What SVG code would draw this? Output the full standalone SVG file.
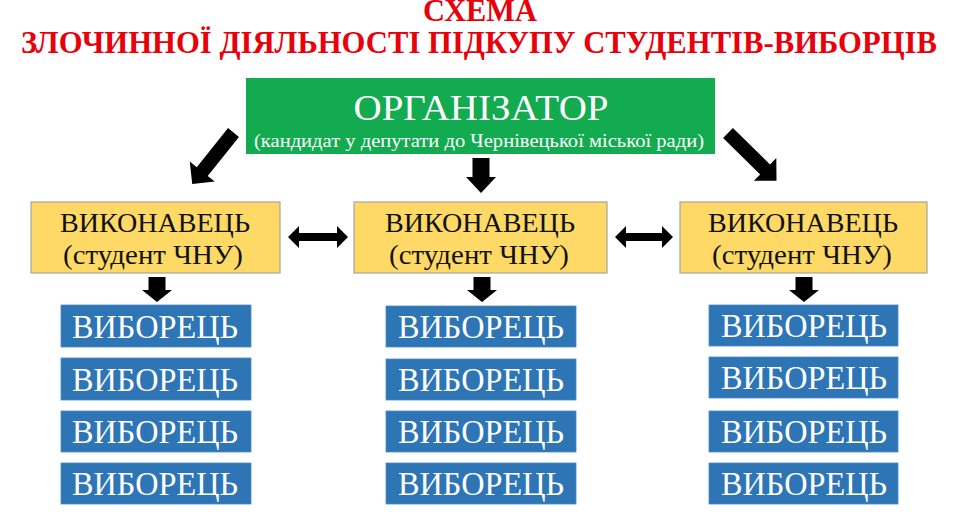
<svg xmlns="http://www.w3.org/2000/svg" width="960" height="515" viewBox="0 0 960 515">
<style>
text{font-family:"Liberation Serif","Times New Roman","DejaVu Serif",serif;}
.title{fill:#e8000b;font-weight:bold;font-size:31px;text-anchor:middle;}
.org{fill:#12ab4f;}
.exe{fill:#ffd966;stroke:#a6a6a6;stroke-width:1.2;}
.vot{fill:#2e75b6;stroke:#4a8ac6;stroke-width:0.8;}
.wt{fill:#ffffff;text-anchor:middle;}
.bt{fill:#111111;text-anchor:middle;font-size:28px;}
.vt{fill:#ffffff;text-anchor:middle;font-size:34px;}
.arr{fill:#000000;}
</style>
<rect width="960" height="515" fill="#ffffff"/>
<g id="title">
<text class="title" x="480" y="21" font-size="29" textLength="114" lengthAdjust="spacingAndGlyphs">СХЕМА</text>
<text class="title" x="479" y="53" textLength="916" lengthAdjust="spacingAndGlyphs">ЗЛОЧИННОЇ ДІЯЛЬНОСТІ ПІДКУПУ СТУДЕНТІВ-ВИБОРЦІВ</text>
</g>
<g id="organizer">
<rect class="org" x="246" y="78" width="469" height="76"/>
<text class="wt" x="481" y="120" font-size="35" textLength="255" lengthAdjust="spacingAndGlyphs">ОРГАНІЗАТОР</text>
<text class="wt" x="479" y="147" font-size="18" textLength="450" lengthAdjust="spacingAndGlyphs">(кандидат у депутати до Чернівецької міської ради)</text>
</g>
<g id="executor-left">
<rect class="exe" x="31" y="202" width="249" height="71"/>
<text class="bt" x="155" y="232" textLength="190" lengthAdjust="spacingAndGlyphs">ВИКОНАВЕЦЬ</text>
<text class="bt" x="153" y="264" textLength="180" lengthAdjust="spacingAndGlyphs">(студент ЧНУ)</text>
</g>
<g id="executor-middle">
<rect class="exe" x="354" y="202" width="253" height="71"/>
<text class="bt" x="480" y="232" textLength="190" lengthAdjust="spacingAndGlyphs">ВИКОНАВЕЦЬ</text>
<text class="bt" x="479" y="264" textLength="180" lengthAdjust="spacingAndGlyphs">(студент ЧНУ)</text>
</g>
<g id="executor-right">
<rect class="exe" x="680" y="202" width="247" height="71"/>
<text class="bt" x="803" y="232" textLength="190" lengthAdjust="spacingAndGlyphs">ВИКОНАВЕЦЬ</text>
<text class="bt" x="802" y="264" textLength="180" lengthAdjust="spacingAndGlyphs">(студент ЧНУ)</text>
</g>
<g id="voters-left">
<rect class="vot" x="61" y="305" width="190" height="42"/>
<text class="vt" x="155" y="338" textLength="166" lengthAdjust="spacingAndGlyphs">ВИБОРЕЦЬ</text>
<rect class="vot" x="61" y="358" width="190" height="42"/>
<text class="vt" x="155" y="391" textLength="166" lengthAdjust="spacingAndGlyphs">ВИБОРЕЦЬ</text>
<rect class="vot" x="61" y="411" width="190" height="41"/>
<text class="vt" x="155" y="443" textLength="166" lengthAdjust="spacingAndGlyphs">ВИБОРЕЦЬ</text>
<rect class="vot" x="61" y="463" width="190" height="41"/>
<text class="vt" x="155" y="495" textLength="166" lengthAdjust="spacingAndGlyphs">ВИБОРЕЦЬ</text>
</g>
<g id="voters-middle">
<rect class="vot" x="386" y="306" width="190" height="41"/>
<text class="vt" x="481" y="338" textLength="166" lengthAdjust="spacingAndGlyphs">ВИБОРЕЦЬ</text>
<rect class="vot" x="386" y="359" width="190" height="41"/>
<text class="vt" x="481" y="391" textLength="166" lengthAdjust="spacingAndGlyphs">ВИБОРЕЦЬ</text>
<rect class="vot" x="386" y="411" width="190" height="41"/>
<text class="vt" x="481" y="443" textLength="166" lengthAdjust="spacingAndGlyphs">ВИБОРЕЦЬ</text>
<rect class="vot" x="386" y="463" width="190" height="41"/>
<text class="vt" x="481" y="495" textLength="166" lengthAdjust="spacingAndGlyphs">ВИБОРЕЦЬ</text>
</g>
<g id="voters-right">
<rect class="vot" x="709" y="305" width="189" height="41"/>
<text class="vt" x="804" y="337" textLength="166" lengthAdjust="spacingAndGlyphs">ВИБОРЕЦЬ</text>
<rect class="vot" x="709" y="357" width="189" height="41"/>
<text class="vt" x="804" y="389" textLength="166" lengthAdjust="spacingAndGlyphs">ВИБОРЕЦЬ</text>
<rect class="vot" x="709" y="411" width="189" height="41"/>
<text class="vt" x="804" y="443" textLength="166" lengthAdjust="spacingAndGlyphs">ВИБОРЕЦЬ</text>
<rect class="vot" x="709" y="463" width="189" height="41"/>
<text class="vt" x="804" y="495" textLength="166" lengthAdjust="spacingAndGlyphs">ВИБОРЕЦЬ</text>
</g>
<g id="connectors">
<polygon class="arr" transform="translate(233.5,132.5) rotate(128.7)" points="0,-7 50,-7 50,-16 66,0 50,16 50,7 0,7"/>
<polygon class="arr" transform="translate(728,133) rotate(44.5)" points="0,-7 52,-7 52,-16 68,0 52,16 52,7 0,7"/>
<polygon class="arr" points="472.5,158 489.5,158 489.5,177 496,177 481,193 466,177 472.5,177"/>
<polygon class="arr" points="288,237 299,226 299,233 337,233 337,226 348,237 337,248 337,241 299,241 299,248"/>
<polygon class="arr" points="615,237 626,226 626,233 662,233 662,226 673,237 662,248 662,241 626,241 626,248"/>
<polygon class="arr" points="148.5,277 165.5,277 165.5,290 172,290 157,302 142,290 148.5,290"/>
<polygon class="arr" points="473.5,277 490.5,277 490.5,290 497,290 482,302 467,290 473.5,290"/>
<polygon class="arr" points="795.5,277 812.5,277 812.5,290 819,290 804,302 789,290 795.5,290"/>
</g>
</svg>
